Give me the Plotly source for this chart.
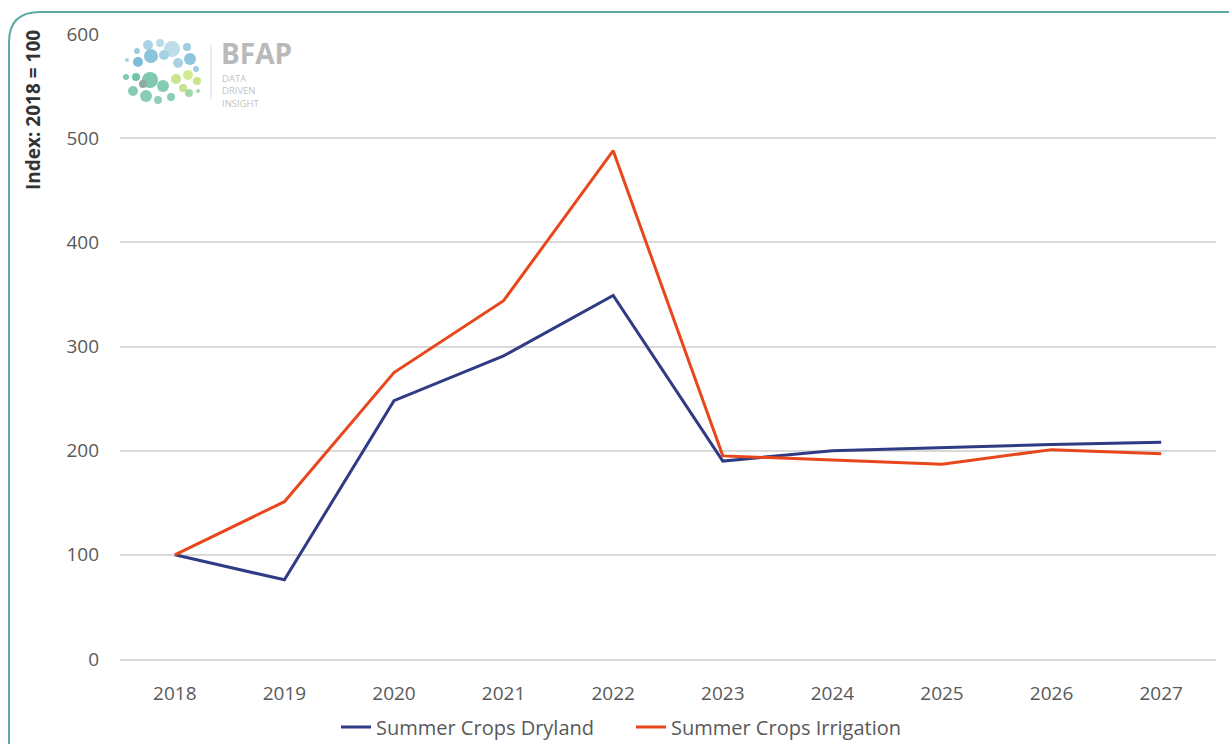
import plotly.graph_objects as go

years = ["2018", "2019", "2020", "2021", "2022", "2023", "2024", "2025", "2026", "2027"]
dryland = [100, 76, 248, 291, 349, 190, 200, 203, 206, 208]
irrigation = [100, 151, 275, 344, 488, 195, 191, 187, 201, 197]

W, H = 1229, 744
L, R, T, B = 120, 13, 34, 85
pw, ph = W - L - R, H - T - B


def px(x):
    return (x - L) / pw


def py(y):
    return (H - B - y) / ph


fig = go.Figure()
fig.add_trace(go.Scatter(x=years, y=dryland, mode="lines", name="Summer Crops Dryland",
                         line=dict(color="#2f3b84", width=3)))
fig.add_trace(go.Scatter(x=years, y=irrigation, mode="lines", name="Summer Crops Irrigation",
                         line=dict(color="#e8471c", width=3)))

font = "Open Sans, Liberation Sans, sans-serif"

# rounded frame (only top-left corner visible)
frame = (f"M {px(9)} {py(760)} L {px(9)} {py(42)} "
         f"Q {px(9)} {py(12)} {px(40)} {py(12)} L {px(1240)} {py(12)}")
shapes = [dict(type="path", xref="paper", yref="paper", path=frame,
               line=dict(color="#5fa9a3", width=2))]

# logo: dot cluster, divider
dots = [
    (148, 45, 5, "#a9d3e3"), (160, 43, 4, "#b8dbe8"), (172, 49, 8, "#bcdde9"), (187, 47, 4, "#9fcde0"),
    (137, 51, 3, "#9fcde0"), (151, 56, 7, "#8cc4dc"), (164, 55, 5, "#a6d1e3"), (190, 59, 6, "#8fc6dc"),
    (127, 60, 2, "#a6d1e3"), (138, 62, 5, "#7fbdd7"), (178, 63, 5, "#a9d3e3"), (196, 69, 3, "#9fcde0"),
    (126, 77, 3, "#7fc9b0"), (136, 77, 4, "#6fc3a7"), (150, 80, 8, "#7fc7ad"), (163, 86, 6, "#86cbb3"),
    (176, 79, 5, "#c9e48a"), (188, 75, 5, "#d3ea90"), (197, 81, 4, "#c9e48a"), (183, 88, 4, "#c6e18c"),
    (133, 91, 5, "#86cbb3"), (146, 96, 6, "#8acdb5"), (158, 100, 4, "#93d0ba"), (171, 97, 4, "#8acdb5"),
    (189, 93, 4, "#a4d7a8"), (143, 84, 4, "#8fa9a0"), (198, 91, 2, "#a4d7a8"),
]
for x, y, r, c in dots:
    shapes.append(dict(type="circle", xref="paper", yref="paper",
                       x0=px(x - r), x1=px(x + r), y0=py(y + r), y1=py(y - r),
                       fillcolor=c, line=dict(width=0), layer="above"))
shapes.append(dict(type="line", xref="paper", yref="paper",
                   x0=px(211), x1=px(211), y0=py(45), y1=py(99),
                   line=dict(color="#d8d8d8", width=1)))

annotations = [
    dict(text="<b>Index: 2018 = 100</b>", x=px(33), y=py(110), xref="paper", yref="paper",
         xanchor="center", yanchor="middle", textangle=-90, showarrow=False,
         font=dict(family=font, size=19, color="#333333")),
    dict(text="<b>BFAP</b>", x=px(219), y=py(53), xref="paper", yref="paper", xanchor="left",
         yanchor="middle", showarrow=False, height=22,
         font=dict(family=font, size=28, color="#b9b9b9")),
    dict(text="DATA<br>DRIVEN<br>INSIGHT", x=px(220), y=py(70), xref="paper", yref="paper",
         xanchor="left", yanchor="top", align="left", showarrow=False,
         font=dict(family=font, size=9.5, color="#c4c4c4")),
]

fig.update_layout(
    width=W, height=H,
    margin=dict(l=L, r=R, t=T, b=B, autoexpand=False),
    paper_bgcolor="white", plot_bgcolor="white",
    font=dict(family=font, size=19, color="#595959"),
    showlegend=True,
    legend=dict(orientation="h", x=px(336), xanchor="left", y=py(727), yanchor="middle",
                font=dict(size=20, color="#595959"), itemwidth=30, tracegroupgap=0,
                entrywidth=250, entrywidthmode="pixels"),
    xaxis=dict(range=[-0.5, 9.5], showgrid=False, showline=True, linecolor="#d9d9d9",
               linewidth=1.5, ticks="", ticklabelstandoff=16, tickfont=dict(size=19),
               automargin=False),
    yaxis=dict(range=[0, 600], dtick=100, showgrid=True, gridcolor="#d9d9d9", gridwidth=1.5,
               zeroline=False, showline=False, ticks="", ticklabelstandoff=20,
               tickfont=dict(size=19), automargin=False),
    shapes=shapes,
    annotations=annotations,
)

fig.write_html("out.html", config={"displayModeBar": False},
               post_script="document.body.style.margin='0';")
